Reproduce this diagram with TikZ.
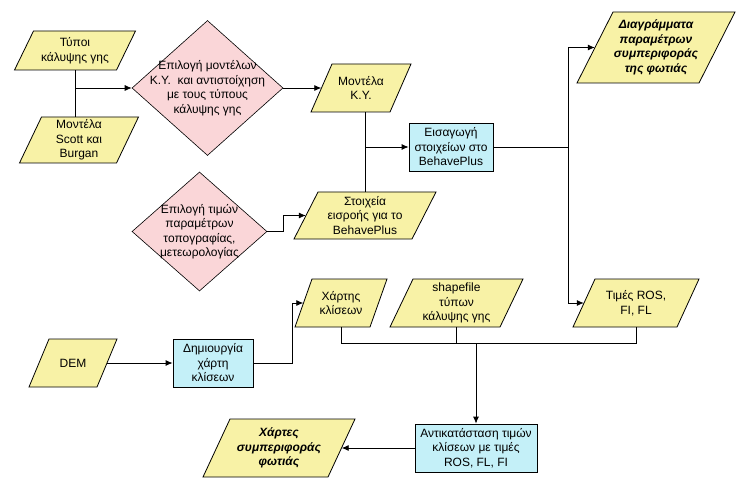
\documentclass[tikz,border=0pt]{standalone}
\usepackage{fontspec}
\setmainfont{Liberation Sans}
\usetikzlibrary{arrows.meta,shapes.geometric}
\definecolor{pgyellow}{HTML}{F8F2A6}
\definecolor{dpink}{HTML}{FAD6D8}
\definecolor{bcyan}{HTML}{C4F0F8}
\tikzset{
  pgshape/.style={draw=black,fill=pgyellow,line width=0.8pt},
  pgtext/.style={draw=none,inner sep=0pt,align=center,font=\fontsize{12}{14.5}\selectfont},
  bolditext/.style={font=\fontsize{12}{14.5}\selectfont\bfseries\itshape},
  dia/.style={diamond,draw=black,fill=dpink,line width=0.6pt,inner sep=0pt},
  dtext/.style={align=center,inner sep=0pt,font=\fontsize{12}{14.5}\selectfont},
  procbox/.style={draw=black,fill=bcyan,line width=0.8pt,inner sep=0pt,align=center,font=\fontsize{12}{14.5}\selectfont},
  conn/.style={line width=0.8pt},
  arr/.style={line width=0.8pt,-{Latex[length=7pt,width=6pt]}}
}
\newcommand\pg[8]{%
  \filldraw[pgshape] ({#2-#4/2-#6/2},{#3+#5/2}) -- ({#2+#4/2-#6/2},{#3+#5/2}) -- ({#2+#4/2+#6/2},{#3-#5/2}) -- ({#2-#4/2+#6/2},{#3-#5/2}) -- cycle;
  \node[pgtext,#8,minimum width=#4,minimum height=#5] (#1) at (#2,#3) {#7};}
\begin{document}
\begin{tikzpicture}[x=1pt,y=-1pt]
\useasboundingbox (0,0) rectangle (743,486);
% parallelograms
\pg{typoi}{75}{50.5}{102}{39}{19}{Τύποι\\κάλυψης γης}{}
\pg{scott}{79}{140}{97}{46}{22}{Μοντέλα\\Scott και\\Burgan}{}
\pg{modky}{361}{88}{79}{48}{21}{Μοντέλα\\Κ.Υ.}{}
\pg{stoix}{365}{215.5}{118}{47}{24}{Στοιχεία\\εισροής για το\\BehavePlus}{}
\pg{diag}{656}{47.5}{122}{71}{36}{Διαγράμματα\\παραμέτρων\\συμπεριφοράς\\της φωτιάς}{bolditext}
\pg{times}{636}{303}{104}{48}{22}{Τιμές ROS,\\FI, FL}{}
\pg{xartis}{341}{303}{75}{48}{17}{Χάρτης\\κλίσεων}{}
\pg{shape}{456.5}{303}{110}{48}{23}{shapefile\\τύπων\\κάλυψης γης}{}
\pg{xartes}{279}{448}{125}{58}{27}{Χάρτες\\συμπεριφοράς\\φωτιάς}{bolditext}
\pg{dem}{73}{363}{68}{48}{20}{DEM}{}
% diamonds
\node[dia,minimum width=151pt,minimum height=135pt,
  label={[dtext]center:Επιλογή μοντέλων\\Κ.Υ.\ \ και αντιστοίχηση\\με τους τύπους\\κάλυψης γης}] (d1) at (207.5,88) {};
\node[dia,minimum width=135pt,minimum height=119pt,
  label={[dtext]center:Επιλογή τιμών\\παραμέτρων\\τοπογραφίας,\\μετεωρολογίας}] (d2) at (199.5,231.5) {};
% process boxes
\node[procbox,minimum width=84pt,minimum height=48pt] (eis) at (451,147) {Εισαγωγή\\στοιχείων στο\\BehavePlus};
\node[procbox,minimum width=80pt,minimum height=48pt] (dim) at (213,363) {Δημιουργία\\χάρτη\\κλίσεων};
\node[procbox,minimum width=122pt,minimum height=48pt] (ant) at (476,448) {Αντικατάσταση τιμών\\κλίσεων με τιμές\\ROS, FL, FI};
% helper coordinates
\coordinate (j1) at (typoi.south |- d1.west);
\coordinate (j2) at (stoix.north |- eis.west);
\coordinate (j3) at (568,147);
\coordinate (bus) at (476,343);
% connectors
\draw[conn] (typoi.south) -- (typoi.south |- scott.north);
\draw[arr] (j1) -- (d1.west);
\draw[arr] (d1.east) -- (modky.west);
\draw[conn] (stoix.north |- modky.south) -- (stoix.north);
\draw[arr] (j2) -- (eis.west);
\draw[arr] (d2.east) -- ++(16,0) |- (stoix.west);
\draw[conn] (eis.east) -- (j3);
\draw[arr] (j3) |- (diag.west);
\draw[arr] (j3) |- (times.west);
\draw[arr] (dem.east) -- (dim.west);
\draw[arr] (dim.east) -- ++(39,0) |- (xartis.west);
\draw[conn] (xartis.south) -- (xartis.south |- bus) -- (times.south |- bus) -- (times.south);
\draw[conn] (shape.south) -- (shape.south |- bus);
\draw[arr] (bus) -- (ant.north);
\draw[arr] (ant.west) -- (xartes.east);
\end{tikzpicture}
\end{document}
